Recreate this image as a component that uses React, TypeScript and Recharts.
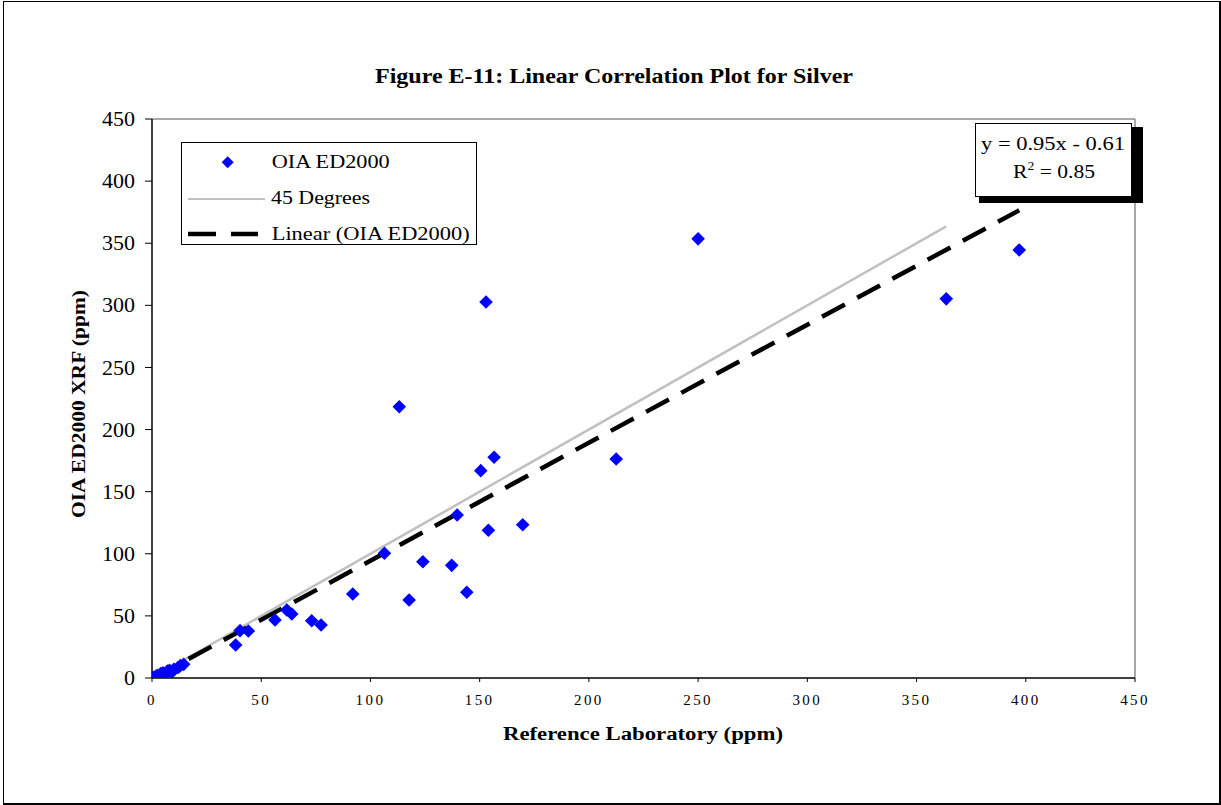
import React from "react";
import { ComposedChart, Scatter, Line, XAxis, YAxis, ReferenceLine, Legend } from "recharts";

const FONT = '"Liberation Serif", "Times New Roman", serif';

// reference lab (x) vs OIA ED2000 XRF (y), ppm
const REF_LAB = [
  0.3, 0.8, 1.2, 1.8, 2.5, 3.2, 4, 5, 6, 7, 8, 9, 10, 12, 13, 14.5,
  38.3, 40.3, 44.1, 56.3, 61.7, 64, 73.1, 77.4, 91.9, 106.4, 113.2, 117.7,
  124, 137.2, 139.7, 144.1, 150.5, 152.9, 154, 156.6, 169.7, 212.5, 250, 363.6, 397,
];
const OIA_ED2000 = [
  0.2, 0.5, 0, 1.5, 2.2, 1.2, 3.5, 4.2, 2.8, 5.5, 6.2, 4.5, 7, 8.5, 10, 11,
  26.6, 38.1, 37.8, 46.7, 54.8, 51.5, 46.1, 42.7, 67.6, 100.4, 218.4, 62.8,
  93.6, 90.7, 131.2, 69, 166.9, 302.7, 118.9, 177.7, 123.4, 176.3, 353.5, 305.2, 344.6,
];

// 45 degree line and the fitted line, end points only
const DIAG_X = [0, 363.6];
const DIAG_Y = [0, 363.6];
const TREND_X = [0.6, 397];
const TREND_Y = [0, 376.5];

const TICKS = [0, 50, 100, 150, 200, 250, 300, 350, 400, 450];
const SERIES_NAMES = ["OIA ED2000", "45 Degrees", "Linear (OIA ED2000)"];
const EQUATION = "y = 0.95x - 0.61";
const R_SQUARED = "0.85";

const points = REF_LAB.map((x, i) => ({ x, y: OIA_ED2000[i] }));
const diag = DIAG_X.map((x, i) => ({ x, y: DIAG_Y[i] }));
const trend = TREND_X.map((x, i) => ({ x, y: TREND_Y[i] }));

function diamondPoints(cx: number, cy: number, r: number) {
  return `${cx},${cy - r} ${cx + r},${cy} ${cx},${cy + r} ${cx - r},${cy}`;
}

function Diamond({ cx, cy }: any) {
  if (cx == null || cy == null) return <g />;
  return <polygon points={diamondPoints(cx, cy, 6.8)} fill="#0000ff" />;
}

function YTick({ x, y, payload }: any) {
  const s = String(payload.value);
  return (
    <text
      x={x} y={y} dy="0.355em"
      textAnchor="end"
      fontFamily={FONT}
      fontSize={20}
      fill="#000"
      textLength={s.length * 11}
      lengthAdjust="spacingAndGlyphs"
    >
      {s}
    </text>
  );
}

function LegendBox() {
  const txt = { fontFamily: FONT, fontSize: 19, fill: "#000" } as const;
  return (
    <svg width={296} height={103} style={{ display: "block" }}>
      <rect x={0.5} y={0.5} width={295} height={102} fill="#fff" stroke="#000" strokeWidth={1} />
      <polygon points={diamondPoints(46.7, 20.3, 6)} fill="#0000ff" />
      <text x={90.7} y={25.7} {...txt} textLength={118} lengthAdjust="spacingAndGlyphs">{SERIES_NAMES[0]}</text>
      <line x1={7} x2={84} y1={57} y2={57} stroke="#c0c0c0" strokeWidth={2} />
      <text x={90} y={62} {...txt} textLength={99} lengthAdjust="spacingAndGlyphs">{SERIES_NAMES[1]}</text>
      <line x1={7} x2={77} y1={92} y2={92} stroke="#000" strokeWidth={4.5} strokeDasharray="28 15" />
      <text x={90.7} y={98} {...txt} textLength={198} lengthAdjust="spacingAndGlyphs">{SERIES_NAMES[2]}</text>
    </svg>
  );
}

export default function App() {
  return (
    <div style={{ position: "absolute", left: 0, top: 0, width: 1221, height: 805, background: "#fff" }}>
      <div style={{
        position: "absolute", left: 3, top: 1, width: 1215, height: 801,
        borderLeft: "1px solid #000", borderTop: "1px solid #000",
        borderRight: "2px solid #000", borderBottom: "2px solid #000",
      }} />
      <div style={{ position: "absolute", left: 0, top: 0 }}>
        <ComposedChart width={1221} height={805} margin={{ top: 119, right: 86, bottom: 87, left: 92 }}>
          <XAxis
            type="number"
            dataKey="x"
            domain={[0, 450]}
            ticks={TICKS}
            interval={0}
            allowDataOverflow
            height={40}
            axisLine={{ stroke: "#000", strokeWidth: 1.5 }}
            tickLine={{ stroke: "#000" }}
            tickSize={4}
            tickMargin={12}
            tick={{ fontFamily: FONT, fontSize: 15, fill: "#000", letterSpacing: 2.4 }}
          />
          <YAxis
            type="number"
            dataKey="y"
            domain={[0, 450]}
            ticks={TICKS}
            interval={0}
            allowDataOverflow
            width={60}
            axisLine={{ stroke: "#000", strokeWidth: 1.5 }}
            tickLine={{ stroke: "#000" }}
            tickSize={7}
            tickMargin={10}
            tick={<YTick />}
          />
          <ReferenceLine y={450} stroke="#8c8c8c" strokeWidth={1.5} />
          <ReferenceLine x={450} stroke="#8c8c8c" strokeWidth={1.5} />
          <Scatter data={points} shape={Diamond} isAnimationActive={false} />
          <Line data={diag} dataKey="y" stroke="#c0c0c0" strokeWidth={2.5} dot={false} activeDot={false} isAnimationActive={false} />
          <Line data={trend} dataKey="y" stroke="#000" strokeWidth={4.5} strokeDasharray="26 14" dot={false} activeDot={false} isAnimationActive={false} />
          <Legend
            content={LegendBox}
            layout="vertical"
            align="center"
            verticalAlign="middle"
            wrapperStyle={{ left: 181, top: 142, width: 296, height: 103 }}
          />
        </ComposedChart>
      </div>
      <svg width={1221} height={805} style={{ position: "absolute", left: 0, top: 0, pointerEvents: "none" }}>
        <text x={614} y={83} textAnchor="middle" fontFamily={FONT} fontWeight="bold" fontSize={21}
          textLength={478} lengthAdjust="spacingAndGlyphs">
          Figure E-11:  Linear Correlation Plot for Silver
        </text>
        <text x={643} y={740} textAnchor="middle" fontFamily={FONT} fontWeight="bold" fontSize={18}
          textLength={280} lengthAdjust="spacingAndGlyphs">
          Reference Laboratory (ppm)
        </text>
        <text transform="translate(85,404) rotate(-90)" textAnchor="middle" fontFamily={FONT} fontWeight="bold" fontSize={19}
          textLength={228} lengthAdjust="spacingAndGlyphs">
          OIA ED2000 XRF (ppm)
        </text>
        <rect x={979} y={127} width={164} height={76} fill="#000" />
        <rect x={975.5} y={123.5} width={156} height={73} fill="#fff" stroke="#000" strokeWidth={1} />
        <text x={1053} y={149.5} textAnchor="middle" fontFamily={FONT} fontSize={19}
          textLength={144} lengthAdjust="spacingAndGlyphs">
          {EQUATION}
        </text>
        <text x={1054} y={178} textAnchor="middle" fontFamily={FONT} fontSize={19}
          textLength={82} lengthAdjust="spacingAndGlyphs">
          R<tspan fontSize={12} dy={-8}>2</tspan><tspan dy={8}> = {R_SQUARED}</tspan>
        </text>
      </svg>
    </div>
  );
}
